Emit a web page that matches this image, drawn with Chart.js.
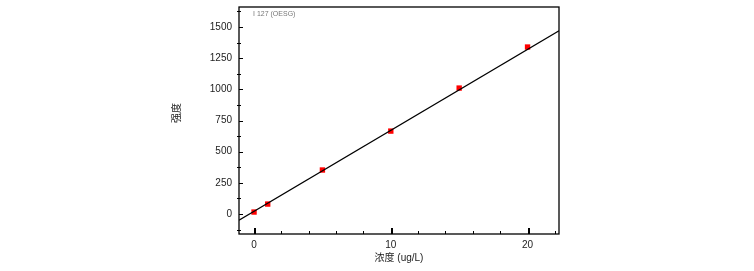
<!DOCTYPE html>
<html>
<head>
<meta charset="utf-8">
<script src="https://cdn.jsdelivr.net/npm/chart.js@4/dist/chart.umd.min.js"></script>
<style>
  html, body { margin: 0; padding: 0; background: #fff; }
  #wrap { width: 754px; height: 271px; position: relative; }
</style>
</head>
<body>
<div id="wrap"><canvas id="c" width="754" height="271"></canvas></div>
<script>
// Data
const concentrations = [0, 1, 5, 10, 15, 20];          // 浓度 (ug/L)
const intensities    = [16, 80, 353, 665, 1010, 1339];  // 强度
const fitX = [-1.1, 22.3];                                // fitted line ends
const fitY = [-50, 1470];
const xTickLabels = [0, 10, 20];
const yTickLabels = [0, 250, 500, 750, 1000, 1250, 1500];
const xMinorTicks = [2, 4, 6, 8, 12, 14, 16, 18, 22];
const yMinorTicks = [-125, 125, 375, 625, 875, 1125, 1375, 1625];
const seriesName = 'I 127 (OESG)';
const xTitle = '浓度 (ug/L)';
const yTitle = '强度';

const FONT = "'Liberation Sans', Arial, 'Noto Sans CJK SC', sans-serif";

const boxAndTicks = {
  id: 'boxAndTicks',
  afterDatasetsDraw(chart) {
    const {ctx, chartArea: a, scales: {x, y}} = chart;
    ctx.save();
    ctx.strokeStyle = '#000';
    ctx.lineWidth = 1.3;
    ctx.strokeRect(a.left, a.top, a.right - a.left, a.bottom - a.top);
    ctx.lineWidth = 1;
    ctx.beginPath();
    xTickLabels.forEach(v => { const px = Math.round(x.getPixelForValue(v)) + 0.5; ctx.moveTo(px, a.bottom); ctx.lineTo(px, a.bottom - 6); ctx.moveTo(px + 1, a.bottom); ctx.lineTo(px + 1, a.bottom - 6); });
    xMinorTicks.forEach(v => { const px = Math.round(x.getPixelForValue(v)) + 0.5; ctx.moveTo(px, a.bottom); ctx.lineTo(px, a.bottom - 3); });
    yTickLabels.forEach(v => { const py = Math.round(y.getPixelForValue(v)) + 0.5; ctx.moveTo(a.left, py); ctx.lineTo(a.left + 4, py); });
    yMinorTicks.forEach(v => { const py = Math.round(y.getPixelForValue(v)) + 0.5; ctx.moveTo(a.left - 2, py); ctx.lineTo(a.left + 2, py); });
    ctx.stroke();
    // series label
    ctx.fillStyle = '#777';
    ctx.font = '7px ' + FONT;
    ctx.textBaseline = 'middle';
    ctx.fillText(seriesName, a.left + 14, a.top + 7);
    // y title
    ctx.fillStyle = '#222';
    ctx.font = '10px ' + FONT;
    ctx.textAlign = 'center';
    ctx.translate(177, 113);
    ctx.rotate(-Math.PI / 2);
    ctx.fillText(yTitle, 0, 0);
    ctx.restore();
  }
};

new Chart(document.getElementById('c'), {
  type: 'scatter',
  data: {
    datasets: [
      {
        type: 'line',
        label: 'fit',
        data: fitX.map((v, i) => ({x: v, y: fitY[i]})),
        borderColor: '#000',
        borderWidth: 1.2,
        pointRadius: 0,
        fill: false
      },
      {
        label: seriesName,
        data: concentrations.map((v, i) => ({x: v, y: intensities[i]})),
        backgroundColor: '#ff0000',
        borderColor: '#ff0000',
        pointStyle: 'rect',
        pointRadius: 3.8,
        borderWidth: 0
      }
    ]
  },
  options: {
    responsive: false,
    animation: false,
    layout: { padding: { left: 0, right: 195, top: 7, bottom: 0 } },
    plugins: { legend: { display: false }, tooltip: { enabled: false } },
    scales: {
      x: {
        type: 'linear',
        min: -1.1, max: 22.3,
        afterFit(s) { s.height = 37; s.paddingLeft = 0; s.paddingRight = 0; },
        afterBuildTicks(s) { s.ticks = xTickLabels.map(v => ({value: v})); },
        grid: { display: false, drawTicks: false },
        border: { display: false },
        ticks: { color: '#222', font: { family: FONT, size: 10 }, padding: 5, maxRotation: 0, callback: v => String(v) },
        title: { display: true, text: xTitle, color: '#222', font: { family: FONT, size: 10 }, padding: { top: 0, bottom: 7 } }
      },
      y: {
        type: 'linear',
        min: -160, max: 1660,
        afterFit(s) { s.width = 239; s.paddingTop = 0; s.paddingBottom = 0; },
        afterBuildTicks(s) { s.ticks = yTickLabels.map(v => ({value: v})); },
        grid: { display: false, drawTicks: false },
        border: { display: false },
        ticks: { color: '#222', font: { family: FONT, size: 10 }, padding: 7, callback: v => String(v) },
        title: { display: false }
      }
    }
  },
  plugins: [boxAndTicks]
});
</script>
</body>
</html>
